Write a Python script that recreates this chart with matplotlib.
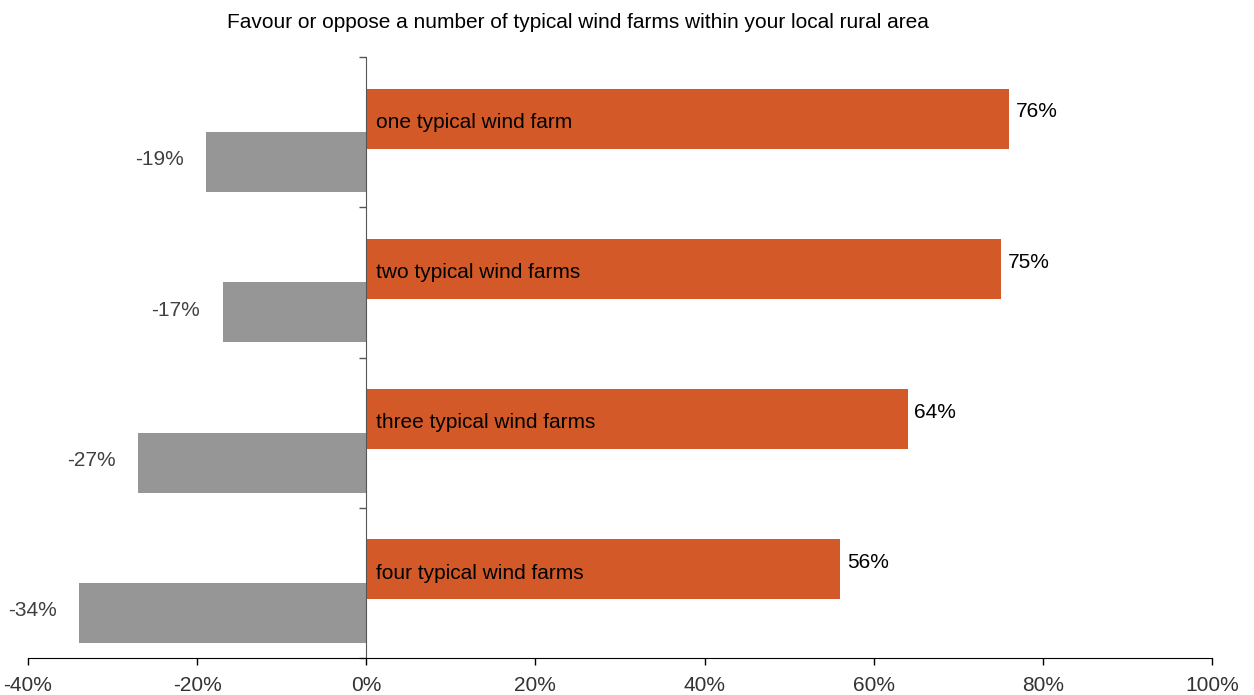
import numpy as np
import matplotlib.pyplot as plt
from matplotlib.ticker import FuncFormatter

plt.rcParams['font.family'] = ['Liberation Sans', 'DejaVu Sans']

categories = ['one typical wind farm', 'two typical wind farms',
              'three typical wind farms', 'four typical wind farms']
favour = [76, 75, 64, 56]
oppose = [-19, -17, -27, -34]
x_ticks = [-40, -20, 0, 20, 40, 60, 80, 100]

orange = '#D35A28'
grey = '#969696'

fig = plt.figure(figsize=(12.54, 6.95), dpi=100)
ax = fig.add_axes([28 / 1254, 37 / 695, (1212 - 28) / 1254, (658 - 57) / 695])

pos = np.arange(len(categories))
ax.barh(pos + 0.41, favour, height=0.4, color=orange, zorder=2)
ax.barh(pos + 0.70, oppose, height=0.4, color=grey, zorder=2)

for i, (cat, f, o) in enumerate(zip(categories, favour, oppose)):
    ax.text(1.1, i + 0.435, cat, ha='left', va='center', fontsize=15, color='black', zorder=3)
    ax.annotate(f'{f}%', (f, i + 0.365), xytext=(5, 0), textcoords='offset points',
                ha='left', va='center', fontsize=15, color='black')
    ax.annotate(f'{o}%', (o, i + 0.685), xytext=(-16, 0), textcoords='offset points',
                ha='right', va='center', fontsize=15, color='#404040')

ax.set_xlim(-40, 100)
ax.set_ylim(4, 0)
ax.set_xticks(x_ticks)
ax.xaxis.set_major_formatter(FuncFormatter(lambda v, p: f'{v:.0f}%'))
ax.tick_params(axis='x', labelsize=15, labelcolor='#333333', length=5, width=1, pad=8)

ax.spines['left'].set_position(('data', 0))
ax.spines['left'].set_color('#555555')
ax.spines['right'].set_visible(False)
ax.spines['top'].set_visible(False)
ax.spines['bottom'].set_color('black')
ax.set_yticks(np.arange(0, 5))
ax.set_yticklabels([])
ax.tick_params(axis='y', length=5, width=1, color='#555555')

fig.text(578 / 1254, 1 - 22 / 695, 'Favour or oppose a number of typical wind farms within your local rural area',
         ha='center', va='center', fontsize=15, color='black')

fig.savefig('out.png', dpi=100)
